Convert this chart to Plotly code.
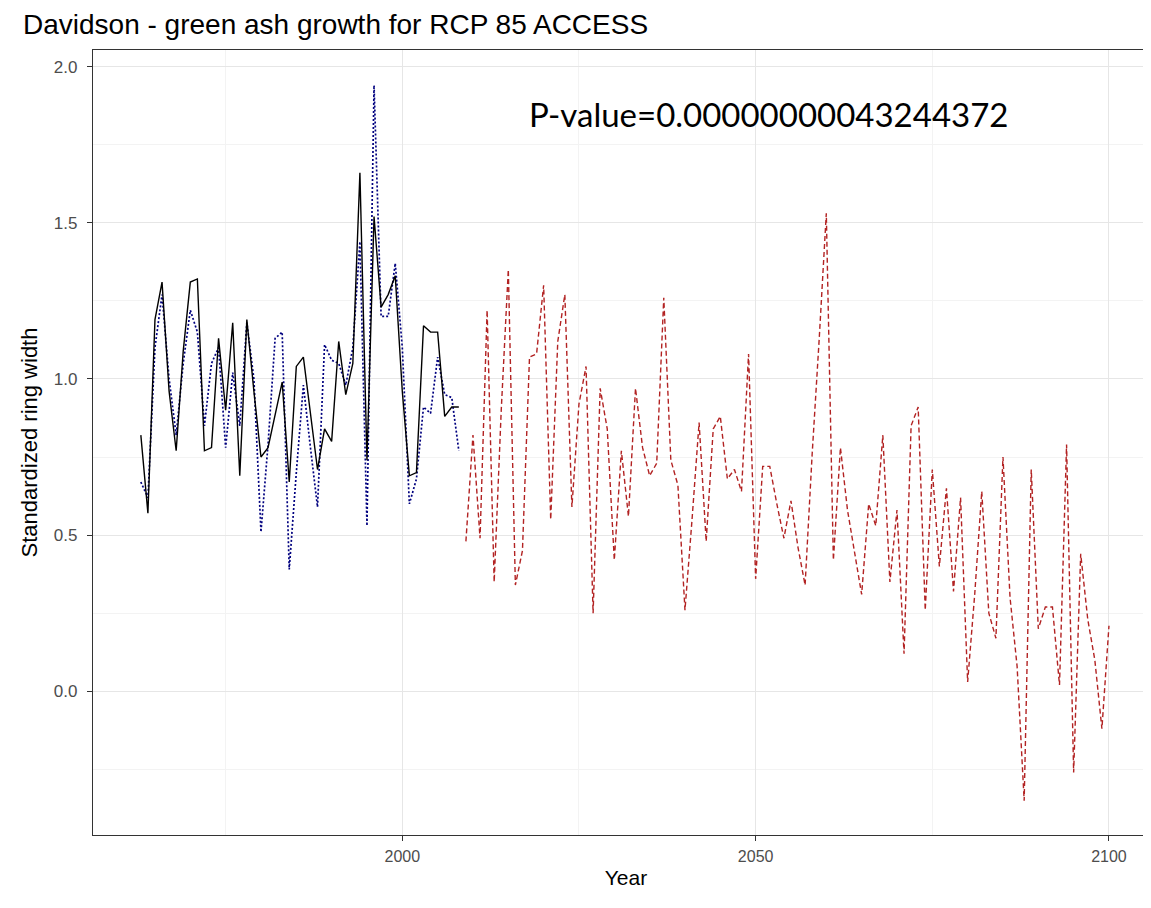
import plotly.graph_objects as go

# ---------------- data ----------------
obs_years = list(range(1963, 2009))
observed = [0.82, 0.57, 1.19, 1.31, 0.96, 0.77, 1.09, 1.31, 1.32, 0.77,
            0.78, 1.13, 0.90, 1.18, 0.69, 1.19, 0.96, 0.75, 0.78, 0.88,
            0.99, 0.67, 1.04, 1.07, 0.88, 0.71, 0.84, 0.80, 1.12, 0.95,
            1.05, 1.66, 0.74, 1.52, 1.23, 1.27, 1.33, 0.96, 0.69, 0.70,
            1.17, 1.15, 1.15, 0.88, 0.91, 0.91]

modeled = [0.67, 0.62, 1.10, 1.27, 1.00, 0.82, 1.05, 1.22, 1.15, 0.85,
           1.05, 1.10, 0.78, 1.02, 0.85, 1.18, 1.00, 0.51, 0.79, 1.13,
           1.15, 0.39, 0.70, 0.98, 0.78, 0.59, 1.11, 1.06, 1.05, 0.98,
           1.10, 1.44, 0.53, 1.94, 1.20, 1.20, 1.37, 1.10, 0.60, 0.68,
           0.91, 0.89, 1.07, 0.95, 0.94, 0.77]

fut_years = list(range(2009, 2101))
projected = [0.48, 0.82, 0.49, 1.22, 0.35, 0.90, 1.35, 0.34, 0.45, 1.07,
             1.08, 1.30, 0.55, 1.12, 1.27, 0.59, 0.92, 1.04, 0.25, 0.97,
             0.84, 0.42, 0.77, 0.56, 0.97, 0.78, 0.69, 0.73, 1.26, 0.74,
             0.66, 0.26, 0.55, 0.86, 0.48, 0.84, 0.88, 0.68, 0.71, 0.64,
             1.08, 0.36, 0.72, 0.72, 0.60, 0.49, 0.61, 0.46, 0.34, 0.76,
             1.13, 1.53, 0.42, 0.78, 0.58, 0.45, 0.31, 0.60, 0.53, 0.82,
             0.35, 0.58, 0.12, 0.85, 0.91, 0.26, 0.71, 0.40, 0.65, 0.32,
             0.62, 0.03, 0.31, 0.64, 0.25, 0.17, 0.75, 0.30, 0.08, -0.35,
             0.71, 0.20, 0.27, 0.27, 0.02, 0.79, -0.26, 0.44, 0.23, 0.10,
             -0.12, 0.21]

x_ticks = [2000, 2050, 2100]
x_minor = [1975, 2025, 2075]
y_ticks = [0.0, 0.5, 1.0, 1.5, 2.0]
y_minor = [-0.25, 0.25, 0.75, 1.25, 1.75]

title_text = "Davidson - green ash growth for RCP 85 ACCESS"
pvalue_text = "P-value=0.00000000043244372"

# ---------------- figure ----------------
# the page body adds an 8px offset; margins compensate so the panel lands
# where it sits in the reference (left 93, top 50, bottom ~835 on screen)
L, R, T, B = 85, 0, 42, 81
W, H = 1151, 908
PW, PH = W - L - R, H - T - B

fig = go.Figure()
fig.add_trace(go.Scatter(x=obs_years, y=modeled, mode="lines",
                         line=dict(color="#00007F", width=1.7, dash="2px,2px"),
                         showlegend=False))
fig.add_trace(go.Scatter(x=obs_years, y=observed, mode="lines",
                         line=dict(color="#000000", width=1.4),
                         showlegend=False))
fig.add_trace(go.Scatter(x=fut_years, y=projected, mode="lines",
                         line=dict(color="#B22222", width=1.4, dash="5px,3px"),
                         showlegend=False))

axis_common = dict(
    showline=True, linecolor="#333333", linewidth=1.2,
    ticks="outside", ticklen=5, tickcolor="#333333", tickwidth=1,
    gridcolor="#E6E6E6", gridwidth=1.2,
    minor=dict(showgrid=True, gridcolor="#F3F3F3", gridwidth=0.8),
    zeroline=False,
)

fig.update_xaxes(range=[1956.23, 2107.08], tickvals=x_ticks,
                 minor_tickvals=x_minor, mirror=True,
                 tickfont=dict(family="Liberation Sans, Arial", size=16, color="#4D4D4D"),
                 ticklabelstandoff=2,
                 title_text="Year", title_standoff=6,
                 title_font=dict(family="Liberation Sans, Arial", size=21, color="#000000"),
                 **axis_common)
fig.update_yaxes(range=[-0.46, 2.053], tickvals=y_ticks,
                 ticktext=[f"{v:.1f}" for v in y_ticks],
                 minor_tickvals=y_minor, mirror=False,
                 tickfont=dict(family="Liberation Sans, Arial", size=17, color="#4D4D4D"),
                 ticklabelstandoff=6,
                 title_text="Standardized ring width", title_standoff=10,
                 title_font=dict(family="Liberation Sans, Arial", size=22, color="#000000"),
                 **axis_common)

fig.add_annotation(text=pvalue_text, xref="paper", yref="paper",
                   x=(527 - 93) / PW, y=(835 - 114) / PH,
                   xanchor="left", yanchor="middle", showarrow=False,
                   font=dict(family="Lato, Open Sans", size=33, color="#000000"))

fig.update_layout(
    width=W, height=H,
    margin=dict(l=L, r=R, t=T, b=B, autoexpand=False),
    paper_bgcolor="white", plot_bgcolor="white",
    title=dict(text=title_text, x=15 / W, xanchor="left",
               y=1 - 16 / H, yanchor="middle",
               font=dict(family="Liberation Sans, Arial", size=28, color="#000000")),
)

fig.write_html("out.html")
